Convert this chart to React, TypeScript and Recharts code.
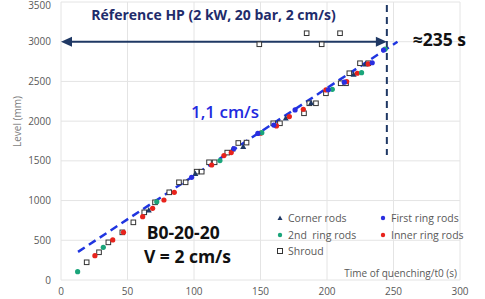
import React from 'react';
import {
  ComposedChart,
  Scatter,
  XAxis,
  YAxis,
  CartesianGrid,
  ReferenceLine,
  ReferenceDot,
  Legend,
} from 'recharts';

const xTicks = [0, 50, 100, 150, 200, 250, 300];
const yTicks = [0, 500, 1000, 1500, 2000, 2500, 3000, 3500];

const cornerRods: [number, number][] = [
  [66, 880], [101, 1340], [129, 1650], [137, 1680], [169, 2040], [188, 2230], [220, 2590], [229, 2720],
];
const firstRingRods: [number, number][] = [
  [98.2, 1293], [130, 1655], [148, 1845], [160, 1950], [176, 2141], [201, 2395], [213, 2490], [234, 2735], [242.5, 2895],
];
const secondRingRods: [number, number][] = [
  [12.5, 105], [31.8, 411], [72, 985], [119.5, 1503], [151, 1855], [204, 2400], [226, 2610], [243.6, 2906],
];
const innerRingRods: [number, number][] = [
  [25.5, 306], [38.9, 504], [47, 600], [61.4, 797], [68.9, 903], [77.4, 1007], [85.2, 1104], [113.3, 1448],
  [122.5, 1566], [128, 1604], [150, 1848], [162, 1940], [171.7, 2057], [182.2, 2150], [199.2, 2393],
  [214.8, 2498], [222.8, 2603], [231, 2720],
];
const shroud: [number, number][] = [
  [19.3, 223], [28.6, 349], [35.6, 474], [46.1, 600], [54.4, 726], [62.6, 852], [70.7, 978], [81.4, 1104],
  [88.7, 1230], [93.7, 1230], [102, 1364], [105.8, 1364], [111.3, 1482], [115.5, 1482], [125, 1604],
  [133.3, 1725], [139.5, 1730], [149.1, 2968], [159.6, 1973], [164.6, 1973], [182.7, 2099], [184.7, 3107],
  [186.7, 2225], [191.7, 2225], [196, 2968], [199.2, 2351], [209.8, 3107], [210.3, 2477], [214.3, 2477],
  [216.8, 2603], [224.8, 2729], [231, 2729],
];

const trendStart = { x: 12.8, y: 354 };
const trendEnd = { x: 253, y: 3000 };
const quenchTime = 245;
const refLevel = 3000;
const vLineTop = 3463;
const vLineBottom = 1574;

const legendItems = [
  { name: 'Corner rods', kind: 'tri', color: '#1f3864' },
  { name: 'First ring rods', kind: 'dot', color: '#2a2ee0' },
  { name: '2nd  ring rods', kind: 'dot', color: '#1aa57a' },
  { name: 'Inner ring rods', kind: 'dot', color: '#e8231c' },
  { name: 'Shroud', kind: 'sq', color: '#222222' },
];

const toPts = (a: [number, number][]) => a.map(([x, y]) => ({ x, y }));

const FONT = '"Open Sans", "Liberation Sans", sans-serif';

const Dot = (color: string) => (p: any) => (
  <circle cx={p.cx} cy={p.cy} r={2.6} fill={color} />
);
const Square = (p: any) => (
  <rect x={p.cx - 2.3} y={p.cy - 2.3} width={4.6} height={4.6} fill="#fff" stroke="#333" strokeWidth={1} />
);
const Tri = (color: string) => (p: any) => (
  <polygon points={`${p.cx},${p.cy - 3} ${p.cx - 3},${p.cy + 2.5} ${p.cx + 3},${p.cy + 2.5}`} fill={color} />
);

const makeText = (text: string, opts: any) => (p: any) => (
  <text
    x={p.cx}
    y={p.cy}
    textAnchor={opts.anchor || 'middle'}
    dominantBaseline="central"
    fontFamily={FONT}
    fontSize={opts.size}
    fontWeight={opts.weight || 400}
    fill={opts.color}
  >
    {text}
  </text>
);

const ArrowLine = (p: any) => {
  const { x1, y1, x2, y2 } = p;
  const c = '#1f3864';
  return (
    <g>
      <line x1={x1 + 6} y1={y1} x2={x2 - 6} y2={y2} stroke={c} strokeWidth={2} />
      <polygon points={`${x1},${y1} ${x1 + 11},${y1 - 5} ${x1 + 11},${y1 + 5}`} fill={c} />
      <polygon points={`${x2},${y2} ${x2 - 11},${y2 - 5} ${x2 - 11},${y2 + 5}`} fill={c} />
    </g>
  );
};

const LegendContent = () => {
  const marker = (it: any) => {
    if (it.kind === 'tri')
      return <polygon points="4,1.5 1.5,6 6.5,6" fill={it.color} />;
    if (it.kind === 'sq')
      return <rect x={1.5} y={1.5} width={5} height={5} fill="#fff" stroke="#333" strokeWidth={1} />;
    return <circle cx={4} cy={4} r={2.2} fill={it.color} />;
  };
  const cell = (it: any) => (
    <div key={it.name} style={{ display: 'flex', alignItems: 'center', height: 16.5 }}>
      <svg width={8} height={8} style={{ marginRight: 4 }}>{marker(it)}</svg>
      <span style={{ fontFamily: FONT, fontSize: 10.5, color: '#595959', whiteSpace: 'pre' }}>{it.name}</span>
    </div>
  );
  return (
    <div style={{ display: 'grid', gridTemplateColumns: '103px 100px' }}>
      {legendItems.map(cell)}
    </div>
  );
};

export default function App() {
  return (
    <div style={{ position: 'absolute', left: 0, top: 0 }}>
      <ComposedChart width={485} height={299} margin={{ top: 2, right: 25, bottom: 0, left: 0 }}>
        <CartesianGrid stroke="#e4e4e4" strokeWidth={1} />
        <XAxis
          type="number"
          dataKey="x"
          domain={[0, 300]}
          ticks={xTicks}
          height={19}
          axisLine={false}
          tickLine={false}
          tickSize={0}
          tickMargin={8}
          tick={{ fontFamily: FONT, fontSize: 10, fill: '#595959' }}
        />
        <YAxis
          type="number"
          dataKey="y"
          domain={[0, 3500]}
          ticks={yTicks}
          width={61}
          axisLine={false}
          tickLine={false}
          tickSize={0}
          tickMargin={10}
          tick={{ fontFamily: FONT, fontSize: 10, fill: '#595959' }}
          label={{
            content: (props: any) => {
              const vb = props.viewBox || { x: 0, y: 0, height: 278 };
              const cx = vb.x + 17;
              const cy = vb.y + vb.height * 0.43;
              return (
                <text
                  x={cx}
                  y={cy}
                  transform={`rotate(-90, ${cx}, ${cy})`}
                  textAnchor="middle"
                  dominantBaseline="central"
                  fontFamily={FONT}
                  fontSize={10}
                  fill="#7f7f7f"
                >
                  Level (mm)
                </text>
              );
            },
          }}
        />
        <ReferenceLine
          segment={[trendStart, trendEnd]}
          stroke="#1f35e0"
          strokeWidth={2.5}
          strokeDasharray="8 5"
          ifOverflow="visible"
        />
        <ReferenceLine
          segment={[{ x: quenchTime, y: vLineTop }, { x: quenchTime, y: vLineBottom }]}
          stroke="#1f3864"
          strokeWidth={2}
          strokeDasharray="7 5"
          ifOverflow="visible"
        />
        <ReferenceLine
          segment={[{ x: 0, y: refLevel }, { x: quenchTime, y: refLevel }]}
          shape={ArrowLine}
          ifOverflow="visible"
        />
        <Scatter name="Shroud" data={toPts(shroud)} shape={Square} isAnimationActive={false} />
        <Scatter name="Corner rods" data={toPts(cornerRods)} shape={Tri('#1f3864')} isAnimationActive={false} />
        <Scatter name="Inner ring rods" data={toPts(innerRingRods)} shape={Dot('#e8231c')} isAnimationActive={false} />
        <Scatter name="2nd  ring rods" data={toPts(secondRingRods)} shape={Dot('#1aa57a')} isAnimationActive={false} />
        <Scatter name="First ring rods" data={toPts(firstRingRods)} shape={Dot('#2a2ee0')} isAnimationActive={false} />
        <ReferenceDot x={114.7} y={3337} r={0} ifOverflow="visible"
          shape={makeText('Réference HP (2 kW, 20 bar, 2 cm/s)', { size: 14, weight: 700, color: '#1f2c6b' })} />
        <ReferenceDot x={284.5} y={3035} r={0} ifOverflow="visible"
          shape={makeText('≈235 s', { size: 17.5, weight: 700, color: '#111' })} />
        <ReferenceDot x={123.3} y={2116} r={0} ifOverflow="visible"
          shape={makeText('1,1 cm/s', { size: 17, weight: 600, color: '#1f2be0' })} />
        <ReferenceDot x={91.9} y={608} r={0} ifOverflow="visible"
          shape={makeText('B0-20-20', { size: 17.5, weight: 700, color: '#111' })} />
        <ReferenceDot x={95.1} y={302} r={0} ifOverflow="visible"
          shape={makeText('V = 2 cm/s', { size: 17.5, weight: 700, color: '#111' })} />
        <ReferenceDot x={297.7} y={92} r={0} ifOverflow="visible"
          shape={makeText('Time of quenching/t0 (s)', { size: 10, color: '#595959', anchor: 'end' })} />
        <Legend
          layout="horizontal"
          verticalAlign="middle"
          content={<LegendContent />}
          wrapperStyle={{ left: 276, top: 210, width: 210 }}
        />
      </ComposedChart>
    </div>
  );
}
